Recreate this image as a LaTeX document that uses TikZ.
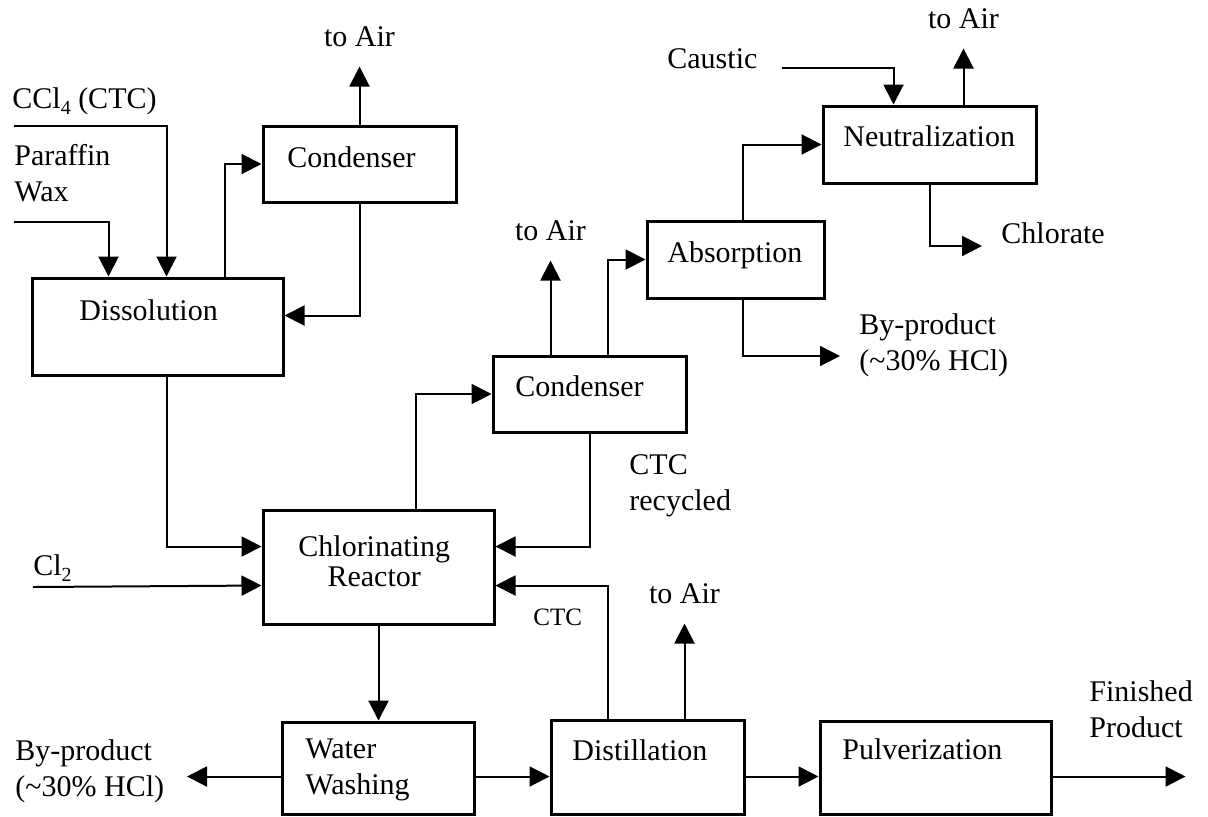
\documentclass[tikz,border=0pt]{standalone}
\usepackage{fontspec}
\setmainfont{Liberation Serif}
\usetikzlibrary{arrows.meta,calc}
\newcommand\chemsub[1]{\raisebox{-0.45ex}{\fontsize{10}{10}\selectfont #1}}
\tikzset{
	unit/.style={draw, line width=1.5pt, inner sep=0pt},
	lbl/.style={inner sep=0pt, font=\fontsize{15}{18}\selectfont, align=left},
	small/.style={inner sep=0pt, font=\fontsize{12.5}{15}\selectfont},
	flow/.style={line width=1pt, -{Triangle[length=10pt,width=10pt]}}
}

\begin{document}
\begin{tikzpicture}[x=0.5pt, y=-0.5pt]
			%%%%% START %%%%%
			\useasboundingbox (0,0) rectangle (1208,816);
			
			% process units
			\node[unit, minimum width=125.5pt, minimum height=48.5pt] (diss) at (157.5,326.5) {};
			\node[unit, minimum width=96.5pt, minimum height=38pt] (cond1) at (359.5,164) {};
			\node[unit, minimum width=96.5pt, minimum height=38pt] (cond2) at (589.5,394) {};
			\node[unit, minimum width=88.5pt, minimum height=38.5pt] (absb) at (735.5,259.5) {};
			\node[unit, minimum width=106.5pt, minimum height=38.5pt] (neut) at (929.5,144.5) {};
			\node[unit, minimum width=115.5pt, minimum height=57pt] (reac) at (378.5,567) {};
			\node[unit, minimum width=96pt, minimum height=46pt] (wash) at (378.5,768) {};
			\node[unit, minimum width=96.5pt, minimum height=47pt] (dist) at (647.5,767) {};
			\node[unit, minimum width=115.5pt, minimum height=46.5pt] (pulv) at (935.5,767.5) {};
			
			\node[lbl, anchor=base west] (dissTxt) at (79,320) {Dissolution};
			\node[lbl, anchor=base west] (cond1Txt) at (287,167) {Condenser};
			\node[lbl, anchor=base west] (cond2Txt) at (515,396) {Condenser};
			\node[lbl, anchor=base west] (absbTxt) at (667,262) {Absorption};
			\node[lbl, anchor=base west] (neutTxt) at (843,146) {Neutralization};
			\node[lbl, anchor=west, align=center] (reacTxt) at (298,561) {Chlorinating\\[-3pt]Reactor};
			\node[lbl, anchor=west] (washTxt) at (305,770) {Water\\Washing};
			\node[lbl, anchor=base west] (distTxt) at (572,760) {Distillation};
			\node[lbl, anchor=base west] (pulvTxt) at (842,759) {Pulverization};
			
			% feeds
			\coordinate (ctcIn) at (14,126);
			\coordinate (parIn) at (14,222);
			\coordinate (clIn) at (33,587);
			\coordinate (causIn) at (782,68);
			\node[lbl, anchor=base west] (ctcTxt) at (12,108) {CCl\chemsub{4} (CTC)};
			\node[lbl, anchor=west] (parTxt) at (14,173.5) {Paraffin\\Wax};
			\node[lbl, anchor=base west] (clTxt) at (33,575) {Cl\chemsub{2}};
			\node[lbl, anchor=base west] (causTxt) at (667,68) {Caustic};
			
			\draw[flow] (ctcIn) -| ($(diss.north west)+(136,0)$);
			\draw[flow] (parIn) -| ($(diss.north west)+(78,0)$);
			\draw[flow] (clIn) -- ($(reac.north west)+(0,77)$);
			\draw[flow] (causIn) -| ($(neut.north west)+(72,0)$);
			
			% dissolution loop
			\draw[flow] ($(diss.north west)+(194,0)$) |- (cond1.west);
			\draw[flow] (cond1.south) |- ($(diss.north east)+(0,39)$);
			\draw[flow] (cond1.north) -- ++(0,-58) coordinate (airA);
			\node[lbl, anchor=base] (airATxt) at ($(airA)+(0,-20)$) {to Air};
			
			\draw[flow] ($(diss.south west)+(136,0)$) |- ($(reac.north west)+(0,38)$);
			
			% reactor off-gas
			\draw[flow] ($(reac.north west)+(154,0)$) |- (cond2.west);
			\draw[flow] ($(cond2.north west)+(59,0)$) -- ++(0,-94) coordinate (airB);
			\node[lbl, anchor=base] (airBTxt) at ($(airB)+(0,-20)$) {to Air};
			\draw[flow] ($(cond2.north west)+(116,0)$) |- (absb.west);
			\draw[flow] (cond2.south) |- ($(reac.north east)+(0,38)$);
			\node[lbl, anchor=west] (recTxt) at (629,485.5) {CTC\\recycled};
			
			% absorption / neutralization
			\draw[flow] ($(absb.north west)+(97,0)$) |- (neut.west);
			\coordinate (bpB) at (840,356);
			\draw[flow] ($(absb.south west)+(97,0)$) |- (bpB);
			\node[lbl, anchor=west] (bpBTxt) at (859,345) {By-product\\(\textasciitilde30\% HCl)};
			\draw[flow] ($(neut.north west)+(142,0)$) -- ++(0,-56) coordinate (airC);
			\node[lbl, anchor=base] (airCTxt) at ($(airC)+(0,-20)$) {to Air};
			\coordinate (chlOut) at (982,246);
			\draw[flow] (neut.south) |- (chlOut);
			\node[lbl, anchor=base west] (chlTxt) at (1001,243) {Chlorate};
			
			% product line
			\draw[flow] (reac.south) -- (wash.north);
			\draw[flow] ($(wash.north west)+(0,56)$) -- ++(-94,0) coordinate (bpA);
			\node[lbl, anchor=west] (bpATxt) at (15,771) {By-product\\(\textasciitilde30\% HCl)};
			\draw[flow] ($(wash.north east)+(0,56)$) -- ($(dist.north west)+(0,58)$);
			\draw[flow] ($(dist.north west)+(58,0)$) |- ($(reac.north east)+(0,77)$);
			\node[small, anchor=base west] (ctcBTxt) at (533,625) {CTC};
			\draw[flow] ($(dist.north west)+(135,0)$) -- ++(0,-95) coordinate (airD);
			\node[lbl, anchor=base] (airDTxt) at ($(airD)+(0,-20)$) {to Air};
			\draw[flow] ($(dist.north east)+(0,58)$) -- ($(pulv.north west)+(0,57)$);
			\draw[flow] ($(pulv.north east)+(0,57)$) -- ++(133,0) coordinate (prodOut);
			\node[lbl, anchor=west] (prodTxt) at (1089,709.5) {Finished\\Product};
			
			%%%%% END %%%%%
\end{tikzpicture}
\end{document}
